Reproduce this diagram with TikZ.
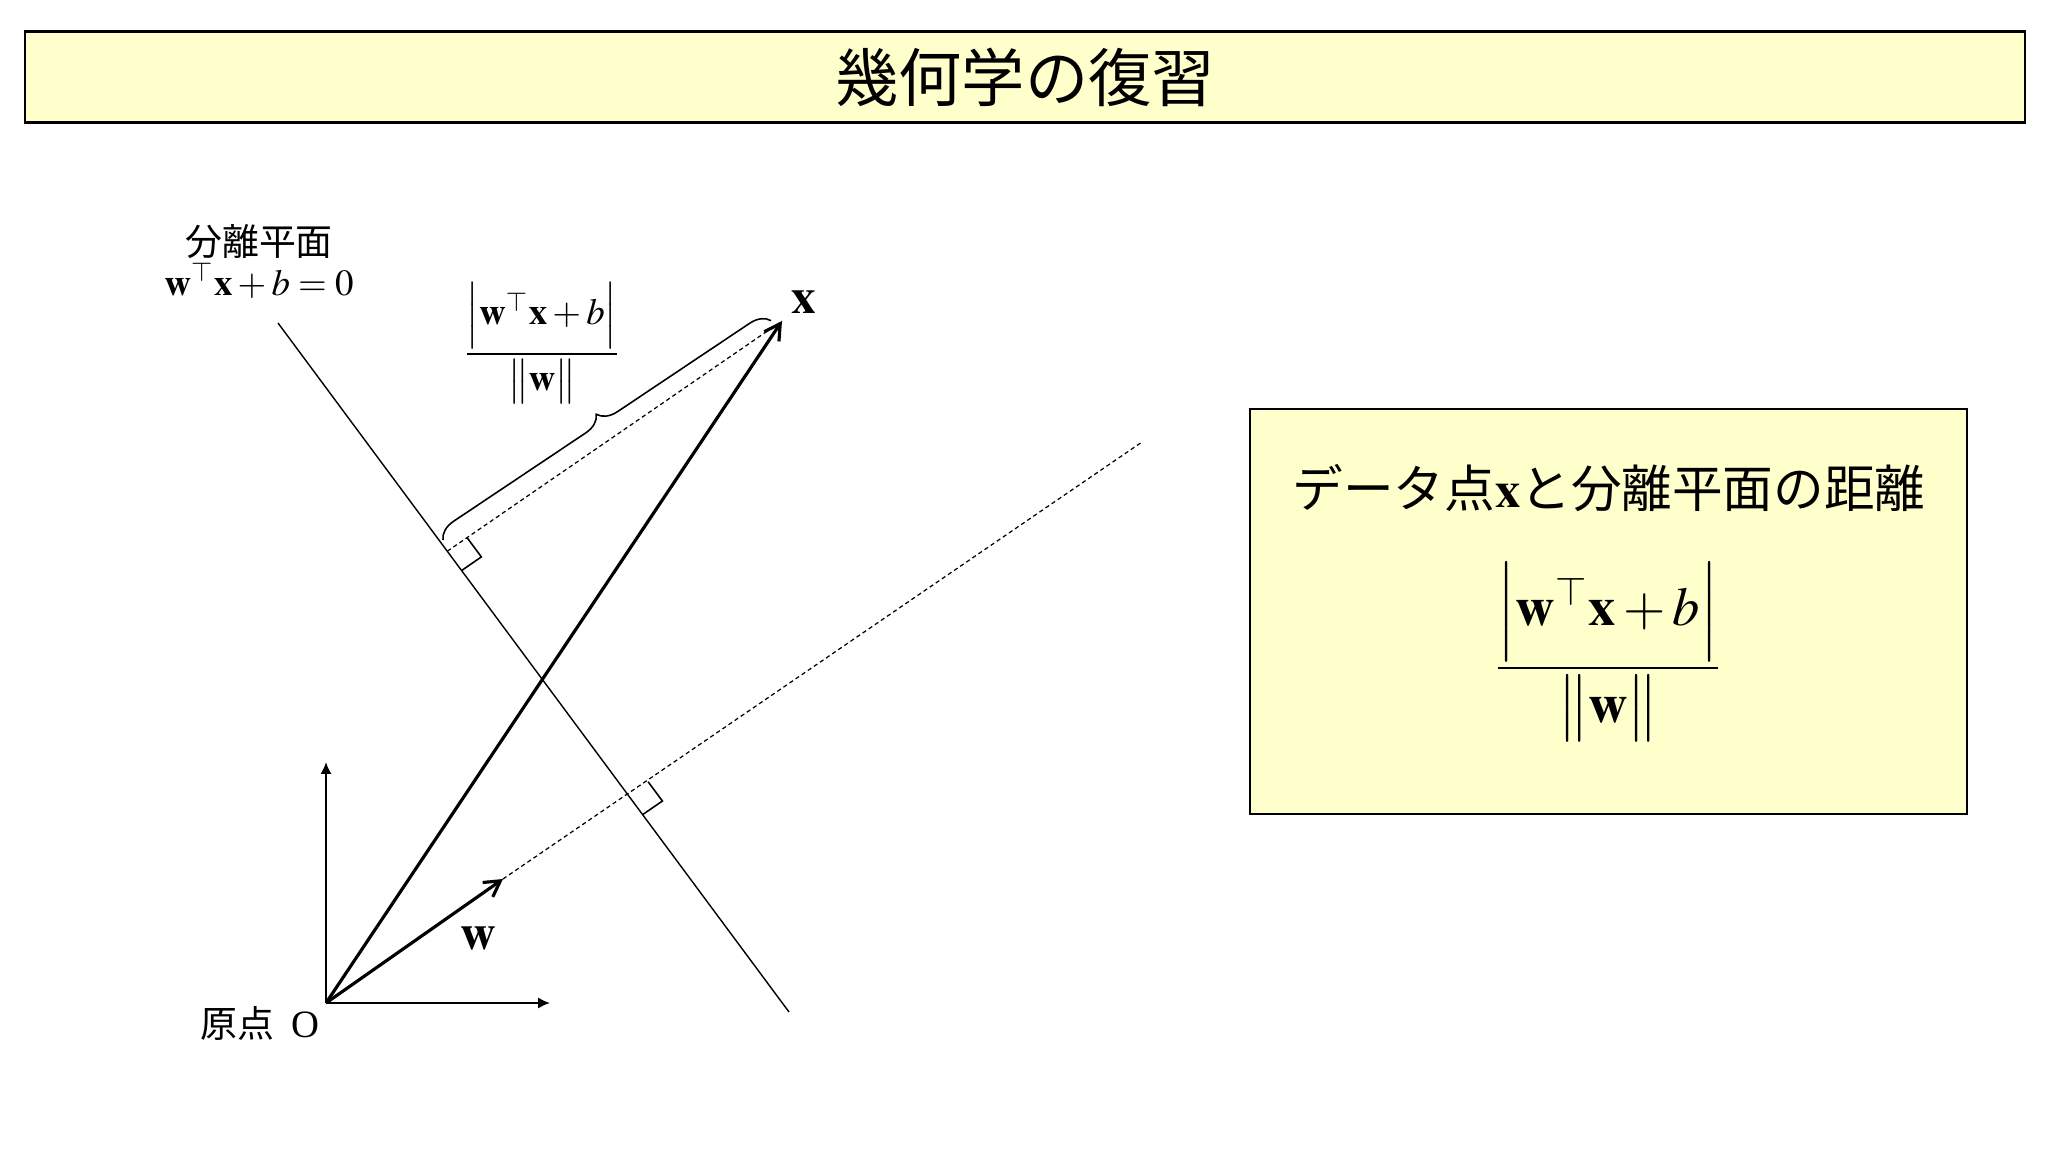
\documentclass[tikz,border=0pt]{standalone}
\usepackage{amsmath}
\usepackage{mathptmx}
\usepackage{fontspec}
\setmainfont{Liberation Serif}
\newfontfamily\cjk{Noto Sans CJK JP}
\usetikzlibrary{arrows.meta,positioning,calc,decorations.pathreplacing}
\definecolor{paleyellow}{HTML}{FFFFCC}
\tikzset{
  panel/.style={draw, fill=paleyellow, line width=0.6pt},
  axis/.style={line width=0.6pt, -{Latex[length=3.4pt,width=3.2pt]}},
  vec/.style={line width=0.9pt, -{Straight Barb[length=4.4pt,width=5pt]}},
  guide/.style={line width=0.35pt, dash pattern=on 1.2pt off 0.9pt},
  plane/.style={line width=0.4pt},
  rightang/.style={line width=0.45pt},
  bracket/.style={line width=0.45pt, decorate, decoration={brace, amplitude=5.5pt}}
}
\newcommand\distfrac{\dfrac{\Bigl|\mathbf{w}^{\top}\mathbf{x}+b\Bigr|}{\bigl\|\mathbf{w}\bigr\|}}

\begin{document}
\begin{tikzpicture}[x=0.01cm, y=-0.01cm]
  \useasboundingbox (0,0) rectangle (2048,1152);

  % title bar and summary box
  \node[panel, minimum width=19.98cm, minimum height=0.91cm,
        font=\cjk\fontsize{18}{20}\selectfont] (title) at (1025,77) {幾何学の復習};
  \node[panel, minimum width=7.17cm, minimum height=4.05cm] (summary) at (1608.5,611.5) {};
  \node[font=\fontsize{14.4}{16}\selectfont] (sumtext) at (1609,488)
       {{\cjk データ点}$\mathbf{x}${\cjk と分離平面の距離}};
  \node[font=\fontsize{15.5}{18}\selectfont] (sumfrac) at (1608,652) {$\distfrac$};

  % points
  \coordinate (O) at (326,1003);
  \coordinate (yend) at (326,762);
  \coordinate (xend) at (550,1003);
  \coordinate (wt) at (503,879);
  \coordinate (xt) at (782,321);
  \coordinate (ht) at (278,323);
  \coordinate (hb) at (789,1012);
  \coordinate (wd) at (1142,442);
  \coordinate (F0) at (intersection of O--wd and ht--hb);
  \coordinate (xq) at ($(xt)+(O)-(wd)$);
  \coordinate (F1) at (intersection of xt--xq and ht--hb);
  \coordinate (b1) at (443,540);
  \coordinate (b2) at (772,320);

  % separating plane and normal direction
  \draw[plane] (ht) -- (hb);
  \draw[guide] (wt) -- (wd);
  \draw[guide] (F1) -- (xt);
  \foreach \f/\t in {F1/xt, F0/wd} {
    \coordinate (sa) at ($(\f)!0.24cm!(\t)$);
    \coordinate (sb) at ($(\f)!0.24cm!(hb)$);
    \draw[rightang] (sa) -- ($(sa)+(sb)-(\f)$) -- (sb);
  }

  % axes and vectors
  \draw[axis] (O) -- (yend);
  \draw[axis] (O) -- (xend);
  \draw[vec] (O) -- (wt);
  \draw[vec] (O) -- (xt);
  \draw[bracket] (b1) -- (b2);

  % labels
  \node[font=\fontsize{14}{16}\selectfont] (xlab) at (804,302) {$\mathbf{x}$};
  \node[font=\fontsize{14}{16}\selectfont] (wlab) at (478,938) {$\mathbf{w}$};
  \node[font=\fontsize{10.5}{12}\selectfont] (distlab) at (542,343) {$\distfrac$};
  \node[font=\cjk\fontsize{10.5}{12}\selectfont] (planename) at (259,242) {分離平面};
  \node[font=\fontsize{10.5}{12}\selectfont, below=-6pt of planename] (planeeq)
       {$\mathbf{w}^{\top}\mathbf{x}+b=0$};
  \node[font=\fontsize{11}{13}\selectfont] (origin) at (260,1023) {{\cjk\fontsize{10.5}{12}\selectfont 原点}\hspace{0.45em}O};
\end{tikzpicture}
\end{document}
